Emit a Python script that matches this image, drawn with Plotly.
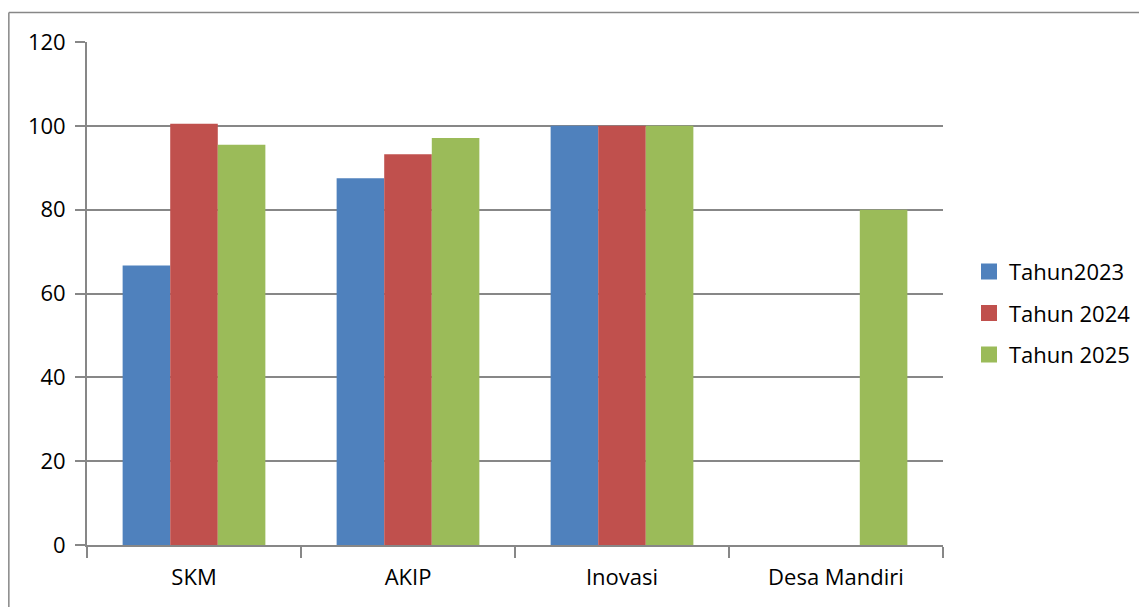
import plotly.graph_objects as go

categories = ["SKM", "AKIP", "Inovasi", "Desa Mandiri"]
series_names = ["Tahun2023", "Tahun 2024", "Tahun 2025"]
tahun_2023 = [66.7, 87.5, 100, None]
tahun_2024 = [100.5, 93.2, 100, None]
tahun_2025 = [95.5, 97.1, 100, 80]
colors = ["#4F81BD", "#C0504D", "#9BBB59"]
y_ticks = [0, 20, 40, 60, 80, 100, 120]

FONT = "Open Sans, sans-serif"
GRAY = "#878787"

fig = go.Figure()
for i, (name, vals) in enumerate(zip(series_names, [tahun_2023, tahun_2024, tahun_2025])):
    fig.add_trace(go.Bar(
        x=categories, y=vals, name=name,
        marker=dict(color=colors[i], line=dict(width=0)),
        showlegend=False,
    ))
# legend entries with larger square swatches
for i, name in enumerate(series_names):
    fig.add_trace(go.Scatter(
        x=[None], y=[None], mode="markers", name=name,
        marker=dict(symbol="square", size=16, color=colors[i], line=dict(width=0)),
        legendgroup=f"g{i}", showlegend=True,
    ))

# page has an 8px body margin; figure coordinates are offset accordingly
W, H = 1139, 599
L, R, T, B = 79, 203, 34, 62
PW, PH = W - L - R, H - T - B
fig.update_layout(
    width=W, height=H,
    margin=dict(l=L, r=R, t=T, b=B, pad=0),
    paper_bgcolor="white", plot_bgcolor="white",
    barmode="group", bargap=0.333, bargroupgap=0,
    font=dict(family=FONT, size=22, color="#000000"),
    showlegend=True,
    legend=dict(
        x=(961 - L) / PW, xanchor="left", y=0.461, yanchor="middle",
        traceorder="grouped", tracegroupgap=10,
        font=dict(family=FONT, size=22, color="#000000"),
        itemwidth=30, bgcolor="rgba(0,0,0,0)",
    ),
    xaxis=dict(
        type="category", showline=True, linecolor=GRAY, linewidth=1.8,
        ticks="outside", tickson="boundaries", ticklen=11, tickcolor=GRAY, tickwidth=1.8,
        showgrid=False, tickfont=dict(family=FONT, size=22), ticklabelstandoff=12,
    ),
    yaxis=dict(
        range=[0, 120], tickvals=y_ticks, showline=True, linecolor=GRAY, linewidth=1.8,
        ticks="outside", ticklen=10, tickcolor=GRAY, tickwidth=1.8,
        showgrid=True, gridcolor=GRAY, gridwidth=1.8, zeroline=False,
        tickfont=dict(family=FONT, size=22), ticklabelstandoff=5,
    ),
    shapes=[
        dict(type="line", xref="paper", yref="paper",
             x0=(0.75 - L) / PW, x1=(W + 20 - L) / PW,
             y0=(H - B - 4.5) / PH, y1=(H - B - 4.5) / PH,
             line=dict(color=GRAY, width=1.5)),
        dict(type="line", xref="paper", yref="paper",
             x0=(0.75 - L) / PW, x1=(0.75 - L) / PW,
             y0=(H - B - 4.5) / PH, y1=-(B + 20) / PH,
             line=dict(color=GRAY, width=1.5)),
    ],
)

fig.write_html("out.html")
